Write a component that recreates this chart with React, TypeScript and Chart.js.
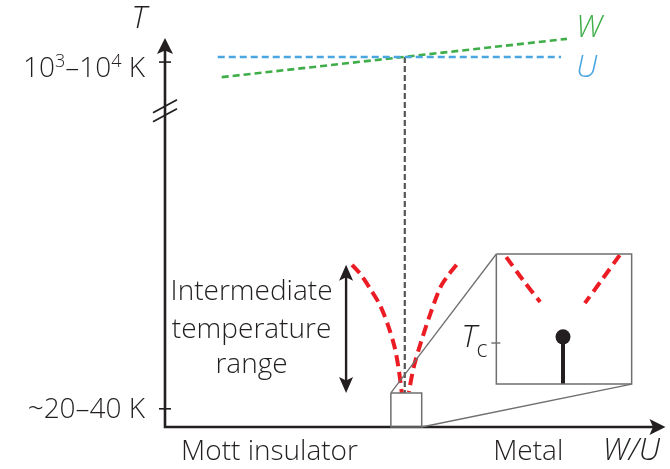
import { useEffect, useRef } from 'react';
import { Chart, registerables } from 'chart.js';

Chart.register(...registerables);

const FONT = '"Open Sans", "Liberation Sans", Arial, sans-serif';
const WEIGHT = 350;

// Schematic coordinates: x = W/U (arb. units 0–10), y = temperature (arb. units 0–10, broken axis)
const uLineX = [1.06, 7.96];
const uLineY = [9.56, 9.56];
const wLineX = [1.14, 8.08];
const wLineY = [9.04, 10.03];
const transitionX = [4.82, 4.82];
const transitionY = [9.56, 0.88];

const crossoverLeftX = [3.76, 3.94, 4.14, 4.32, 4.48, 4.62, 4.7, 4.76];
const crossoverLeftY = [4.19, 3.93, 3.54, 3.15, 2.64, 2.04, 1.47, 0.88];
const crossoverRightX = [5.86, 5.68, 5.54, 5.34, 5.14, 5.0, 4.9];
const crossoverRightY = [4.19, 3.9, 3.62, 2.95, 2.17, 1.55, 0.9];

// Zoom window near the transition and its magnified inset
const zoomBoxX = [4.54, 5.16, 5.16, 4.54, 4.54];
const zoomBoxY = [0.88, 0.88, 0, 0, 0.88];
const insetBoxX = [6.66, 9.38, 9.38, 6.66, 6.66];
const insetBoxY = [4.47, 4.47, 1.11, 1.11, 4.47];
const connectorTopX = [4.54, 6.66];
const connectorTopY = [0.88, 4.47];
const connectorBottomX = [5.16, 9.38];
const connectorBottomY = [0, 1.11];
const insetLeftX = [6.86, 7.2, 7.54];
const insetLeftY = [4.39, 3.79, 3.23];
const insetRightX = [9.14, 8.78, 8.44];
const insetRightY = [4.44, 3.8, 3.2];
const tcX = 8.0;
const tcValue = 2.33;
const tcTick = 2.17;
const insetFloor = 1.11;

// Axes
const axisXEnd = 10.06;
const axisYEnd = 10.05;
const breakY = 8.17;
const yTickValues = [9.43, 0.47];
const yTickLabels = ['10^3–10^4 K', '~20–40 K'];
const yTickBaselines = [9.04, 0.23];
const xLabels = ['Mott insulator', 'Metal'];
const xLabelCenters = [2.1, 7.3];
const xLabelBaseline = -0.85;

// Intermediate range marker
const rangeArrowX = 3.64;
const rangeArrowY = [0.88, 4.19];
const rangeText = ['Intermediate', 'temperature', 'range'];
const rangeTextX = 1.74;
const rangeTextBaselines = [3.28, 2.3, 1.4];

const GREEN = '#3fae49';
const BLUE = '#4aa6e0';
const RED = '#ec1c24';
const GRAY = '#6f6f6f';
const INK = '#231f20';

const pts = (xs: number[], ys: number[]) => xs.map((x, i) => ({ x, y: ys[i] }));

const lineSet = (data: { x: number; y: number }[], color: string, width: number, dash: number[] = [], tension = 0) => ({
  data,
  borderColor: color,
  backgroundColor: color,
  borderWidth: width,
  borderDash: dash,
  tension,
  pointRadius: 0,
  fill: false,
  clip: false as const,
  showLine: true,
});

function drawArrowHead(ctx: CanvasRenderingContext2D, tx: number, ty: number, dx: number, dy: number, len: number, half: number) {
  const bx = tx - dx * len;
  const by = ty - dy * len;
  const nx = -dy;
  const ny = dx;
  const ix = tx - dx * len * 0.78;
  const iy = ty - dy * len * 0.78;
  ctx.beginPath();
  ctx.moveTo(tx, ty);
  ctx.lineTo(bx + nx * half, by + ny * half);
  ctx.lineTo(ix, iy);
  ctx.lineTo(bx - nx * half, by - ny * half);
  ctx.closePath();
  ctx.fill();
}

function drawSupText(ctx: CanvasRenderingContext2D, label: string, right: number, baseline: number, size: number) {
  const parts = label.split(/\^(\d)/);
  const segs = parts.map((t, i) => ({ t, sup: i % 2 === 1 }));
  const supSize = Math.round(size * 0.66);
  let total = 0;
  for (const s of segs) {
    ctx.font = `${WEIGHT} ${s.sup ? supSize : size}px ${FONT}`;
    total += ctx.measureText(s.t).width;
  }
  let x = right - total;
  ctx.textAlign = 'left';
  for (const s of segs) {
    ctx.font = `${WEIGHT} ${s.sup ? supSize : size}px ${FONT}`;
    ctx.fillText(s.t, x, s.sup ? baseline - size * 0.38 : baseline);
    x += ctx.measureText(s.t).width;
  }
}

const diagramPlugin = {
  id: 'phaseDiagram',
  beforeDatasetsDraw(chart: any) {
    const { ctx, scales } = chart;
    const px = (v: number) => scales.x.getPixelForValue(v);
    const py = (v: number) => scales.y.getPixelForValue(v);
    ctx.save();
    ctx.strokeStyle = INK;
    ctx.fillStyle = INK;
    ctx.lineWidth = 2.6;
    // axes
    ctx.beginPath();
    ctx.moveTo(px(0), py(axisYEnd) + 10);
    ctx.lineTo(px(0), py(0));
    ctx.lineTo(px(axisXEnd) - 10, py(0));
    ctx.stroke();
    drawArrowHead(ctx, px(0), py(axisYEnd), 0, -1, 16, 8);
    drawArrowHead(ctx, px(axisXEnd), py(0), 1, 0, 16, 8);
    // ticks
    ctx.lineWidth = 1.6;
    for (const v of yTickValues) {
      ctx.beginPath();
      ctx.moveTo(px(0) - 6, py(v));
      ctx.lineTo(px(0) + 6, py(v));
      ctx.stroke();
    }
    // axis break
    ctx.lineWidth = 1.8;
    for (const off of [-4.5, 4.5]) {
      const cy = py(breakY) + off;
      ctx.beginPath();
      ctx.moveTo(px(0) - 12, cy + 6.5);
      ctx.lineTo(px(0) + 12, cy - 6.5);
      ctx.stroke();
    }
    ctx.restore();
  },
  afterDatasetsDraw(chart: any) {
    const { ctx, scales } = chart;
    const px = (v: number) => scales.x.getPixelForValue(v);
    const py = (v: number) => scales.y.getPixelForValue(v);
    ctx.save();
    ctx.fillStyle = INK;
    ctx.strokeStyle = INK;
    ctx.textBaseline = 'alphabetic';

    // intermediate-range double arrow
    ctx.lineWidth = 2.4;
    ctx.beginPath();
    ctx.moveTo(px(rangeArrowX), py(rangeArrowY[0]) - 10);
    ctx.lineTo(px(rangeArrowX), py(rangeArrowY[1]) + 10);
    ctx.stroke();
    drawArrowHead(ctx, px(rangeArrowX), py(rangeArrowY[0]), 0, 1, 16, 7);
    drawArrowHead(ctx, px(rangeArrowX), py(rangeArrowY[1]), 0, -1, 16, 7);

    // Tc tick on inset
    ctx.lineWidth = 1.4;
    ctx.strokeStyle = GRAY;
    ctx.beginPath();
    ctx.moveTo(px(insetBoxX[0]) - 5, py(tcTick));
    ctx.lineTo(px(insetBoxX[0]) + 4, py(tcTick));
    ctx.stroke();

    // texts
    ctx.textAlign = 'center';
    ctx.font = `${WEIGHT} 28px ${FONT}`;
    rangeText.forEach((t, i) => ctx.fillText(t, px(rangeTextX), py(rangeTextBaselines[i])));
    xLabels.forEach((t, i) => ctx.fillText(t, px(xLabelCenters[i]), py(xLabelBaseline)));

    yTickLabels.forEach((t, i) => drawSupText(ctx, t, px(-0.4), py(yTickBaselines[i]), 28));

    ctx.textAlign = 'left';
    ctx.font = `italic ${WEIGHT} 31px ${FONT}`;
    ctx.fillText('W/U', px(8.8), py(xLabelBaseline));
    ctx.textAlign = 'center';
    ctx.fillText('T', px(-0.52), py(10.31));

    ctx.textAlign = 'left';
    ctx.fillStyle = GREEN;
    ctx.fillText('W', px(8.26), py(10.08));
    ctx.fillStyle = BLUE;
    ctx.fillText('U', px(8.26), py(9.04));

    ctx.fillStyle = INK;
    ctx.fillText('T', px(5.96), py(2.07));
    ctx.font = `${WEIGHT} 23px ${FONT}`;
    ctx.fillText('c', px(6.26), py(1.8));
    ctx.restore();
  },
};

export default function App() {
  const canvasRef = useRef<HTMLCanvasElement | null>(null);

  useEffect(() => {
    if (!canvasRef.current) return;
    const chart = new Chart(canvasRef.current, {
      type: 'line',
      data: {
        datasets: [
          lineSet(pts(zoomBoxX, zoomBoxY), GRAY, 1.5),
          lineSet(pts(insetBoxX, insetBoxY), GRAY, 1.5),
          lineSet(pts(connectorTopX, connectorTopY), GRAY, 1.3),
          lineSet(pts(connectorBottomX, connectorBottomY), GRAY, 1.3),
          lineSet(pts(uLineX, uLineY), BLUE, 2.4, [7, 4]),
          lineSet(pts(wLineX, wLineY), GREEN, 2.6, [7, 4]),
          lineSet(pts(transitionX, transitionY), '#555555', 2.2, [6, 3]),
          lineSet(pts(crossoverLeftX, crossoverLeftY), RED, 4, [11, 6], 0.3),
          lineSet(pts(crossoverRightX, crossoverRightY), RED, 4, [11, 6], 0.3),
          lineSet(pts(insetLeftX, insetLeftY), RED, 4, [11, 6], 0.3),
          lineSet(pts(insetRightX, insetRightY), RED, 4, [11, 6], 0.3),
          lineSet(pts([tcX, tcX], [insetFloor, tcValue]), INK, 4),
          {
            data: [{ x: tcX, y: tcValue }],
            showLine: false,
            pointRadius: 7.5,
            pointBackgroundColor: INK,
            pointBorderColor: INK,
            pointBorderWidth: 0,
            clip: false as const,
          },
        ],
      },
      options: {
        animation: false,
        responsive: false,
        devicePixelRatio: 1,
        layout: { padding: { left: 165, right: 5, top: 40, bottom: 42 } },
        scales: {
          x: { type: 'linear', min: 0, max: 10, display: false },
          y: { type: 'linear', min: 0, max: 10, display: false },
        },
        plugins: { legend: { display: false }, tooltip: { enabled: false } },
        events: [],
      },
      plugins: [diagramPlugin],
    });
    return () => chart.destroy();
  }, []);

  return (
    <div style={{ position: 'fixed', left: 0, top: 0, width: 670, height: 469, background: '#fff' }}>
      <canvas ref={canvasRef} width={670} height={469} />
    </div>
  );
}
